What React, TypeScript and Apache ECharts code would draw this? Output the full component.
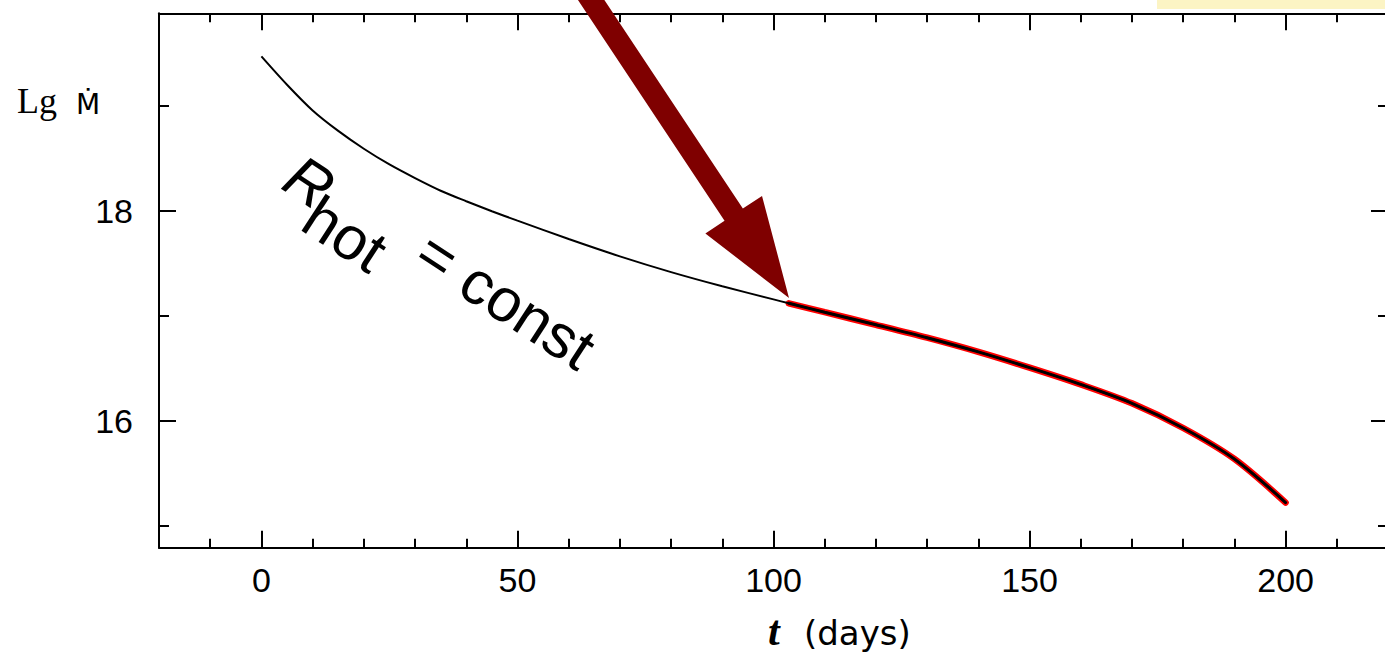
import React, { useEffect, useRef } from 'react';
import * as echarts from 'echarts';

// ---- data ----
const tDays = [0, 5, 10, 15, 20, 25, 30, 35, 40, 45, 50, 60, 70, 80, 90, 100, 103, 110, 120, 130, 140, 150, 160, 170, 180, 190, 200];
const lgMdot = [19.47, 19.2, 18.955, 18.76, 18.59, 18.44, 18.31, 18.19, 18.09, 17.995, 17.905, 17.73, 17.565, 17.415, 17.28, 17.155, 17.118, 17.033, 16.913, 16.79, 16.655, 16.505, 16.345, 16.165, 15.93, 15.635, 15.22];
const redStartDay = 103;

const xMin = -20;
const xMax = 220;
const yMin = 14.79;
const yMax = 19.88;
const xMajorTicks = [0, 50, 100, 150, 200];
const xMinorTicks = [-10, 10, 20, 30, 40, 60, 70, 80, 90, 110, 120, 130, 140, 160, 170, 180, 190, 210];
const yMajorTicks = [16, 18];
const yMinorTicks = [15, 17, 19];

const FONT = '"Liberation Sans", Arial, sans-serif';

function xAxisDef(position: string, ticks: number[], len: number, showLine: boolean, labels: boolean) {
  return {
    type: 'value',
    gridIndex: 0,
    position,
    min: xMin,
    max: xMax,
    axisLine: { show: showLine, onZero: false, lineStyle: { color: '#000', width: 2 } },
    axisTick: { show: true, inside: true, length: len, customValues: ticks, lineStyle: { color: '#000', width: 2 } },
    axisLabel: labels
      ? { show: true, customValues: xMajorTicks, color: '#000', fontSize: 34, fontFamily: FONT, margin: 15, formatter: (v: number) => String(v) }
      : { show: false },
    splitLine: { show: false },
  };
}

function yAxisDef(position: string, ticks: number[], len: number, showLine: boolean, labels: boolean) {
  return {
    type: 'value',
    gridIndex: 0,
    position,
    min: yMin,
    max: yMax,
    axisLine: { show: showLine, onZero: false, lineStyle: { color: '#000', width: 2 } },
    axisTick: { show: true, inside: true, length: len, customValues: ticks, lineStyle: { color: '#000', width: 2 } },
    axisLabel: labels
      ? { show: true, customValues: yMajorTicks, color: '#000', fontSize: 34, fontFamily: FONT, margin: 26, formatter: (v: number) => String(v) }
      : { show: false },
    splitLine: { show: false },
  };
}

export default function App() {
  const ref = useRef<HTMLDivElement>(null);

  useEffect(() => {
    if (!ref.current) return;
    const chart = echarts.init(ref.current, null, { renderer: 'svg' });

    const fullData = tDays.map((t, i) => [t, lgMdot[i]]);
    const redData = fullData.filter((p) => p[0] >= redStartDay);

    // arrow geometry (annotation)
    const d = [0.553, 0.833];
    const n = [0.833, -0.553];
    const T = [789, 298];
    const headLen = 100;
    const headHalf = 34;
    const shaftHalf = 11;
    const B = [T[0] - headLen * d[0], T[1] - headLen * d[1]];
    const F = [B[0] - 330 * d[0], B[1] - 330 * d[1]];
    const P = (o: number[], k: number) => [o[0] + k * n[0], o[1] + k * n[1]];
    const arrowPts = [P(F, shaftHalf), P(B, shaftHalf), P(B, headHalf), T, P(B, -headHalf), P(B, -shaftHalf), P(F, -shaftHalf)];

    const rot = (-33 * Math.PI) / 180;
    const fsR = 61;
    const mid = -0.35 * fsR;

    chart.setOption({
      animation: false,
      backgroundColor: '#ffffff',
      grid: { left: 159, top: 13.3, width: 1229, height: 534.4, containLabel: false, outerBoundsMode: 'none' },
      xAxis: [
        xAxisDef('bottom', xMajorTicks, 17, true, true),
        xAxisDef('bottom', xMinorTicks, 9, false, false),
        xAxisDef('top', xMajorTicks, 17, true, false),
        xAxisDef('top', xMinorTicks, 9, false, false),
      ],
      yAxis: [
        yAxisDef('left', yMajorTicks, 17, true, true),
        yAxisDef('left', yMinorTicks, 10, false, false),
        yAxisDef('right', yMajorTicks, 17, false, false),
        yAxisDef('right', yMinorTicks, 10, false, false),
      ],
      series: [
        {
          type: 'line', xAxisIndex: 0, yAxisIndex: 0, data: redData, showSymbol: false, smooth: 0.3, silent: true,
          lineStyle: { color: '#ff0000', width: 6.5, cap: 'round' }, z: 2,
        },
        {
          type: 'line', xAxisIndex: 0, yAxisIndex: 0, data: fullData, showSymbol: false, smooth: 0.3, silent: true,
          lineStyle: { color: '#000000', width: 2 }, z: 3,
        },
        {
          type: 'line', xAxisIndex: 0, yAxisIndex: 0, data: redData, showSymbol: false, smooth: 0.3, silent: true,
          lineStyle: { color: '#000000', width: 3, cap: 'round' }, z: 4,
        },
      ],
      graphic: [
        { type: 'rect', left: 1157, top: 0, shape: { width: 240, height: 9 }, style: { fill: '#fcf4c4' }, z: 1 },
        { type: 'polygon', shape: { points: arrowPts }, style: { fill: '#7f0000' }, z: 10 },
        {
          type: 'group', x: 279, y: 188, rotation: rot, z: 10,
          children: [
            { type: 'text', x: 0, y: mid, style: { text: 'R', fontSize: fsR, fontStyle: 'italic', fontFamily: FONT, fill: '#000', align: 'left', verticalAlign: 'middle' } },
            { type: 'text', x: 38, y: 24 + mid, style: { text: 'hot', fontSize: fsR, fontFamily: FONT, fill: '#000', align: 'left', verticalAlign: 'middle' } },
            { type: 'text', x: 152, y: mid - 8, style: { text: '= const', fontSize: fsR, fontFamily: FONT, fill: '#000', align: 'left', verticalAlign: 'middle' } },
          ],
        },
        { type: 'text', x: 17, y: 113 - 0.34 * 36, style: { text: 'Lg', fontSize: 36, fontFamily: '"Liberation Serif", serif', fill: '#000', align: 'left', verticalAlign: 'middle' }, z: 10 },
        { type: 'text', x: 76, y: 114 - 0.35 * 28, style: { text: '\u1E40', fontSize: 28, fontFamily: '"DejaVu Sans", sans-serif', fill: '#000', align: 'left', verticalAlign: 'middle' }, z: 10 },
        { type: 'text', x: 768, y: 645 - 0.34 * 42, style: { text: 't', fontSize: 42, fontStyle: 'italic', fontWeight: 'bold', fontFamily: '"Liberation Serif", serif', fill: '#000', align: 'left', verticalAlign: 'middle' }, z: 10 },
        { type: 'text', x: 804, y: 645 - 0.35 * 34, style: { text: '(days)', fontSize: 34, fontFamily: '"DejaVu Sans", sans-serif', fill: '#000', align: 'left', verticalAlign: 'middle' }, z: 10 },
      ],
    });

    return () => chart.dispose();
  }, []);

  return (
    <div style={{ position: 'fixed', left: 0, top: 0, width: 1385, height: 656, overflow: 'hidden', background: '#fff' }}>
      <div ref={ref} style={{ width: 1400, height: 656 }} />
    </div>
  );
}
